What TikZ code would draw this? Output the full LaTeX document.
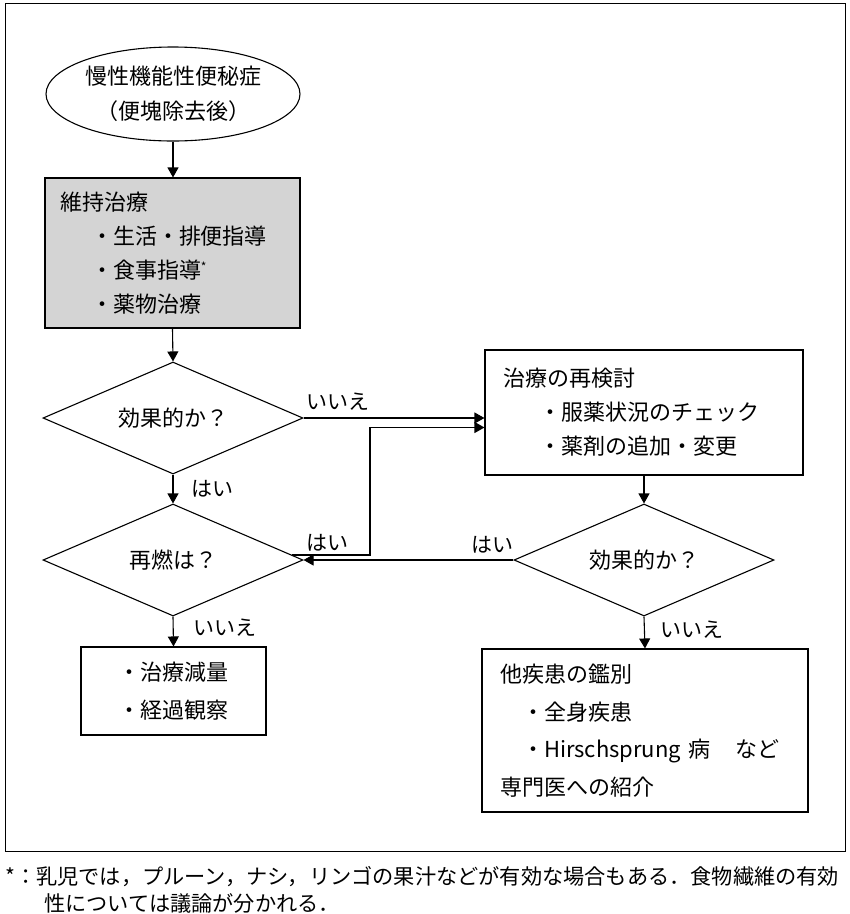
\documentclass[tikz,border=0pt]{standalone}
\usepackage{fontspec}
\setmainfont{Noto Sans CJK JP}
\usetikzlibrary{shapes.geometric,arrows.meta,calc}
\begin{document}
\begin{tikzpicture}[x=1pt,y=-1pt,
  every node/.style={font=\fontsize{22}{34}\selectfont},
  conn/.style={line width=1.1pt},
  arr/.style={conn,-{Triangle[length=10pt,width=11pt]}},
  box/.style={draw,line width=1.1pt,rectangle,inner sep=0pt},
  dec/.style={draw,line width=1.1pt,diamond,shape aspect=2.3,minimum width=260pt,minimum height=112pt,inner sep=1pt},
  lbl/.style={font=\fontsize{21}{24}\selectfont,inner sep=0pt}]

\useasboundingbox (0,0) rectangle (850,914);
\draw[line width=0.9pt] (5,3) rectangle (845,851);

\node[draw,ellipse,line width=1.1pt,minimum width=254pt,minimum height=94pt,inner sep=0pt,align=center,font=\fontsize{22}{35}\selectfont] (start) at (173,94) {慢性機能性便秘症\\（便塊除去後）};

\node[box,fill=black!17,minimum width=255pt,minimum height=150pt,text width=225pt,align=left] (maint) at (172.5,253)
  {維持治療\\\hspace*{31pt}・生活・排便指導\\\hspace*{31pt}・食事指導{\fontsize{12}{12}\selectfont\raisebox{7pt}{*}}\\\hspace*{31pt}・薬物治療};

\node[dec] (d1) at (173,418) {効果的か？};
\node[dec] (d2) at (173,560) {再燃は？};
\node[dec] (d3) at (644,560) {効果的か？};

\node[box,minimum width=318pt,minimum height=125pt,text width=282pt,align=left] (re) at (644,412.5)
  {治療の再検討\\\hspace*{36pt}・服薬状況のチェック\\\hspace*{36pt}・薬剤の追加・変更};

\node[box,minimum width=326pt,minimum height=163pt,text width=290pt,align=left,font=\fontsize{22}{37.5}\selectfont] (other) at (645,730.5)
  {他疾患の鑑別\\\hspace*{22pt}・全身疾患\\\hspace*{22pt}・Hirschsprung 病\hspace{25pt}など\\専門医への紹介};

\node[box,minimum width=185pt,minimum height=88pt,align=left,font=\fontsize{22}{38}\selectfont] (red) at (173.5,691)
  {・治療減量\\・経過観察};

\node[lbl] (l1) at (338,402) {いいえ};
\node[lbl] (l2) at (212,489) {はい};
\node[lbl] (l3) at (327,543) {はい};
\node[lbl] (l4) at (492,545) {はい};
\node[lbl] (l5) at (225,628) {いいえ};
\node[lbl] (l6) at (692,630) {いいえ};

\draw[arr] (start.south) -- (start.south |- maint.north);
\draw[arr] (maint.south) -- (d1.north);
\draw[arr] (d1.east) -- (d1.east -| re.west);
\draw[arr] (d1.south) -- (d2.north);
\coordinate (d2o) at ($(d2.east)+(-11.6,-5)$);
\coordinate (xbend) at (370,0);
\coordinate (re2) at ($(re.west)+(0,15)$);
\draw[arr] (d2o) -- (d2o -| xbend) |- (re2);
\draw[arr] (d3.west) -- (d2.east);
\draw[arr] (re.south) -- (d3.north);
\draw[arr] (d3.south) -- (other.north);
\draw[arr] (d2.south) -- (red.north);

\node[anchor=west,inner sep=0pt,font=\fontsize{21.2}{26}\selectfont] (fn1) at (5,877)
  {*：乳児では，プルーン，ナシ，リンゴの果汁などが有効な場合もある．食物繊維の有効};
\node[anchor=west,inner sep=0pt,font=\fontsize{21.2}{26}\selectfont] (fn2) at (44,903)
  {性については議論が分かれる．};
\end{tikzpicture}
\end{document}
